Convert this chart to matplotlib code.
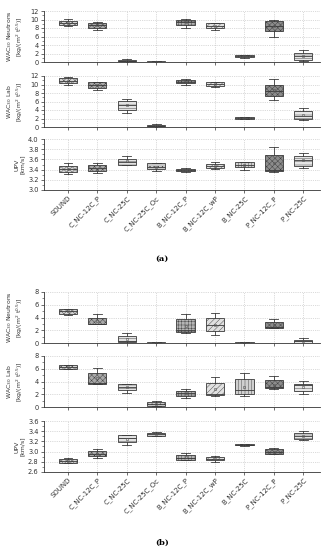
import numpy as np
import matplotlib
matplotlib.use("Agg")
import matplotlib.pyplot as plt
from matplotlib.ticker import MultipleLocator

plt.rcParams['font.family'] = ['DejaVu Sans']
plt.rcParams['hatch.linewidth'] = 0.3

categories = ["SOUND", "C_NC-12C_P", "C_NC-25C", "C_NC-25C_Oc", "B_NC-12C_P",
              "B_NC-12C_wP", "B_NC-25C", "P_NC-12C_P", "P_NC-25C"]

# each row: whisker low, q1, median, q3, whisker high, mean
a_neutrons = [(8.4, 8.73, 9.2, 9.74, 10.1, 9.2),
              (7.6, 8.1, 8.7, 9.27, 9.35, 8.7),
              (0.08, 0.15, 0.3, 0.47, 0.62, 0.3),
              (0.03, 0.05, 0.08, 0.12, 0.14, 0.08),
              (7.95, 8.73, 9.5, 9.9, 10.05, 9.4),
              (7.48, 7.95, 8.5, 9.12, 9.27, 8.5),
              (0.94, 1.09, 1.3, 1.56, 1.7, 1.3),
              (6.0, 7.33, 8.5, 9.74, 9.9, 8.4),
              (0.23, 0.47, 1.3, 2.1, 2.88, 1.4)]
a_lab = [(9.79, 10.26, 10.8, 11.6, 11.76, 10.9),
         (8.7, 9.2, 9.8, 10.5, 10.7, 9.8),
         (3.3, 4.1, 5.1, 6.2, 6.55, 5.2),
         (0.08, 0.16, 0.3, 0.47, 0.6, 0.3),
         (9.95, 10.26, 10.7, 11.1, 11.3, 10.7),
         (9.5, 9.6, 10.1, 10.5, 10.66, 10.1),
         (1.95, 2.0, 2.15, 2.3, 2.4, 2.15),
         (6.45, 7.4, 8.4, 10.0, 11.3, 8.6),
         (1.6, 2.0, 2.5, 3.7, 4.5, 2.9)]
a_upv = [(3.32, 3.354, 3.42, 3.48, 3.53, 3.41),
         (3.34, 3.37, 3.43, 3.49, 3.52, 3.42),
         (3.49, 3.50, 3.55, 3.61, 3.66, 3.56),
         (3.37, 3.41, 3.46, 3.525, 3.525, 3.46),
         (3.36, 3.37, 3.40, 3.42, 3.43, 3.39),
         (3.42, 3.43, 3.47, 3.51, 3.55, 3.47),
         (3.40, 3.455, 3.5, 3.54, 3.54, 3.49),
         (3.355, 3.38, 3.40, 3.68, 3.835, 3.52),
         (3.43, 3.475, 3.59, 3.66, 3.73, 3.58)]
b_neutrons = [(4.46, 4.6, 5.0, 5.28, 5.4, 4.95),
              (2.92, 2.92, 3.0, 3.95, 4.5, 3.4),
              (0.05, 0.15, 0.3, 1.13, 1.6, 0.65),
              (0.03, 0.05, 0.07, 0.1, 0.12, 0.07),
              (1.6, 1.74, 2.0, 3.7, 4.56, 2.7),
              (1.33, 1.9, 2.77, 3.9, 4.67, 2.9),
              (0.03, 0.05, 0.07, 0.1, 0.12, 0.07),
              (2.36, 2.36, 2.46, 3.28, 3.8, 2.9),
              (0.0, 0.05, 0.3, 0.5, 0.77, 0.3)]
b_lab = [(5.9, 6.0, 6.3, 6.53, 6.65, 6.3),
         (3.66, 3.66, 3.8, 5.29, 6.07, 4.5),
         (2.25, 2.62, 3.2, 3.56, 3.56, 3.1),
         (0.16, 0.21, 0.52, 0.73, 0.89, 0.5),
         (1.36, 1.73, 2.15, 2.57, 2.88, 2.2),
         (1.73, 1.83, 2.1, 3.77, 4.76, 2.8),
         (1.73, 2.04, 2.6, 4.35, 5.4, 3.2),
         (2.88, 2.98, 3.2, 4.19, 4.8, 3.5),
         (2.1, 2.57, 3.4, 3.66, 4.03, 3.2)]
b_upv = [(2.77, 2.78, 2.815, 2.86, 2.87, 2.815),
         (2.88, 2.91, 2.96, 3.02, 3.06, 2.96),
         (3.125, 3.18, 3.26, 3.32, 3.32, 3.25),
         (3.30, 3.30, 3.34, 3.37, 3.39, 3.34),
         (2.84, 2.84, 2.88, 2.935, 2.98, 2.89),
         (2.80, 2.83, 2.86, 2.90, 2.92, 2.86),
         (3.11, 3.12, 3.13, 3.14, 3.145, 3.13),
         (2.95, 2.96, 3.0, 3.05, 3.07, 3.0),
         (3.23, 3.25, 3.31, 3.36, 3.4, 3.3)]

face = ['#d4d4d4', '#a8a8a8', '#e2e2e2', '#c8c8c8', '#b4b4b4',
        '#e0e0e0', '#d0d0d0', '#8c8c8c', '#e6e6e6']
hatches = ['xxxxxx', 'xxxxxx', '-----', '....', '+++++',
           '//////', '|||||', 'xxxxxx', '-----']

neu_lab = "WAC$_{30}$ Neutrons\n[kg/(m$^2$ t$^{0.5}$)]"
lab_lab = "WAC$_{30}$ Lab\n[kg/(m$^2$ t$^{0.5}$)]"
upv_lab = "UPV\n[km/s]"

# (data, ylabel, ylim, major, minor, bottom_px, show_xlabels)
panels = [
    (a_neutrons, neu_lab, (0, 12), 2, 1, 62, False),
    (a_lab, lab_lab, (0, 12), 2, 1, 127, False),
    (a_upv, upv_lab, (3.0, 4.0), 0.2, 0.1, 190, True),
    (b_neutrons, neu_lab, (0, 8), 2, 1, 343, False),
    (b_lab, lab_lab, (0, 8), 2, 1, 407, False),
    (b_upv, upv_lab, (2.6, 3.6), 0.2, 0.1, 472, True),
]

W, H = 324, 550
fig = plt.figure(figsize=(W / 100, H / 100), dpi=100)

for data, ylabel, ylim, major, minor, bot, showx in panels:
    ax = fig.add_axes([43.5 / W, 1 - bot / H, 276 / W, 51 / H])
    stats = []
    for row in data:
        lo, q1, med, q3, hi, mn = row
        stats.append(dict(whislo=lo, q1=q1, med=med, q3=q3, whishi=hi, mean=mn))
    pos = np.arange(1, len(categories) + 1)
    res = ax.bxp(stats, positions=pos, widths=0.62, patch_artist=True,
                 showmeans=True, showfliers=False,
                 boxprops=dict(linewidth=0.6, edgecolor='#3a3a3a'),
                 medianprops=dict(color='#3a3a3a', linewidth=0.6),
                 whiskerprops=dict(color='#3a3a3a', linewidth=0.6),
                 capprops=dict(color='#3a3a3a', linewidth=0.6),
                 capwidths=0.3,
                 meanprops=dict(marker='s', markersize=1.8, markerfacecolor='none',
                                markeredgecolor='#555555', markeredgewidth=0.4))
    for patch, fc, h in zip(res['boxes'], face, hatches):
        patch.set_facecolor(fc)
        patch.set_hatch(h)
        patch.set_edgecolor('#3a3a3a')
    ax.set_xlim(0.17, 9.55)
    ax.set_ylim(*ylim)
    ax.yaxis.set_major_locator(MultipleLocator(major))
    ax.yaxis.set_minor_locator(MultipleLocator(minor))
    ax.grid(True, which='major', linestyle=':', linewidth=0.5, color='#b8b8b8')
    ax.set_axisbelow(True)
    for s in ['top', 'right']:
        ax.spines[s].set_visible(False)
    for s in ['left', 'bottom']:
        ax.spines[s].set_linewidth(0.6)
        ax.spines[s].set_color('#333333')
    ax.tick_params(axis='both', which='major', labelsize=4.8, length=2.5, width=0.5,
                   pad=1, colors='#333333')
    ax.tick_params(axis='y', which='minor', length=1.5, width=0.4, colors='#333333')
    ax.set_ylabel(ylabel, fontsize=4.4, color='#333333', linespacing=1.15)
    ax.yaxis.set_label_coords(-0.066, 0.5)
    if major == 0.2:
        ax.yaxis.set_major_formatter(plt.FormatStrFormatter('%.1f'))
    ax.set_xticks(pos)
    if showx:
        ax.set_xticklabels(categories, rotation=45, ha='right', rotation_mode='anchor',
                           fontsize=5)
    else:
        ax.set_xticklabels([])

fig.text(0.5, 1 - 259 / H, "(a)", ha='center', va='center', fontsize=6,
         family='DejaVu Serif', weight='bold')
fig.text(0.5, 1 - 543 / H, "(b)", ha='center', va='center', fontsize=6,
         family='DejaVu Serif', weight='bold')

fig.savefig("out.png", dpi=100)
